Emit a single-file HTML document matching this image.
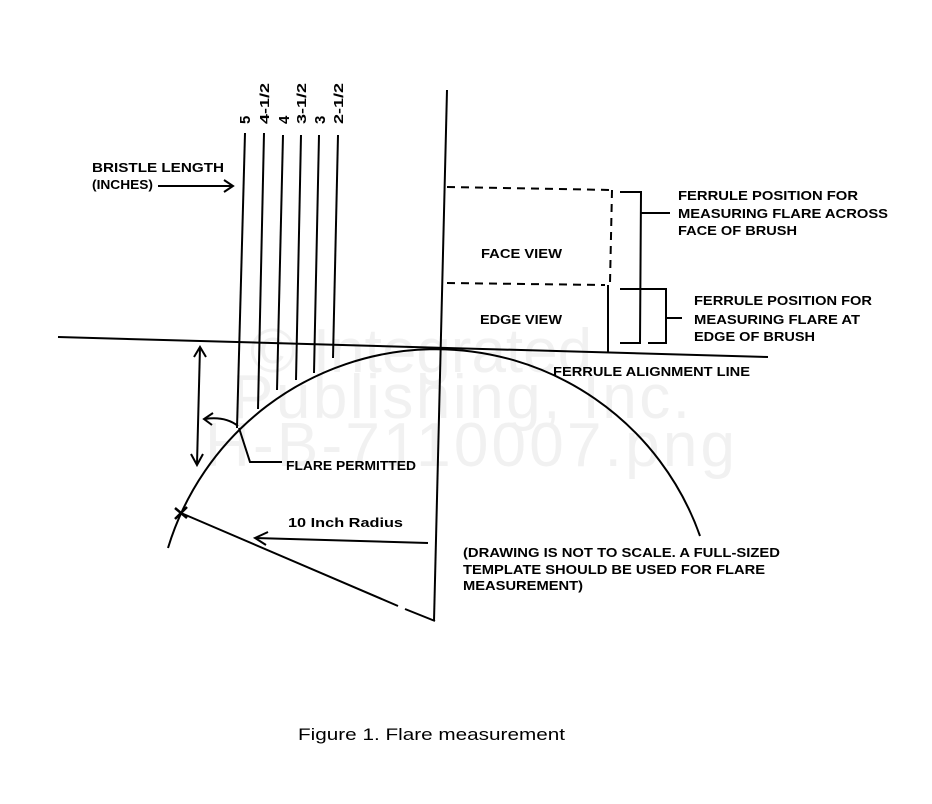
<!DOCTYPE html>
<html><head><style>html,body{margin:0;padding:0;background:#fff}svg{display:block}</style></head>
<body>
<svg width="932" height="804" viewBox="0 0 932 804" xmlns="http://www.w3.org/2000/svg" font-family="Liberation Sans, Arial, sans-serif">
<g fill="#f1f1f1" font-size="62">
<text x="250" y="372">© Integrated</text>
<text x="232" y="418" textLength="458">Publishing, Inc.</text>
<text x="205" y="466" textLength="530">H-B-7110007.png</text>
</g>
<g stroke="#000" fill="none" stroke-width="2">
<line x1="58" y1="337" x2="768" y2="357"/>
<line x1="447" y1="90" x2="434" y2="621"/>
<path d="M168,548 A280,280 0 0 1 700,536"/>
<line x1="245" y1="133" x2="237" y2="428"/>
<line x1="264" y1="133" x2="258" y2="409"/>
<line x1="283" y1="135" x2="277" y2="390"/>
<line x1="301" y1="135" x2="296" y2="380"/>
<line x1="319" y1="135" x2="314" y2="373"/>
<line x1="338" y1="135" x2="333" y2="358"/>
<line x1="158" y1="186" x2="233" y2="186"/>
<polyline points="224,180 233,186 224,192"/>
<line x1="200" y1="347" x2="197" y2="464"/>
<polyline points="194,357 200,347 206,357"/>
<polyline points="191,454 197,465 203,454"/>
<path d="M238,426 Q225,416 205,419"/>
<polyline points="213,413 204,419 212,425"/>
<polyline points="239,428 250,462 282,462"/>
<line x1="181" y1="513" x2="398" y2="606"/>
<line x1="405" y1="609" x2="435" y2="621"/>
<line x1="428" y1="543" x2="255" y2="538"/>
<polyline points="268,532 255,538 266,545"/>
<path d="M175,508 L187,518 M187,507 L175,519" stroke-width="2.5"/>
<g stroke-dasharray="8,6">
<line x1="447" y1="187" x2="612" y2="190"/>
<line x1="447" y1="283" x2="605" y2="285"/>
<line x1="612" y1="190" x2="610" y2="283"/>
</g>
<line x1="608" y1="285" x2="608" y2="352"/>
<polyline points="620,192 641,192 640,343 620,343"/>
<line x1="641" y1="213" x2="670" y2="213"/>
<polyline points="620,289 666,289 666,343 648,343"/>
<line x1="666" y1="318" x2="682" y2="318"/>
</g>
<g font-weight="bold" font-size="13" fill="#000">
<g transform="translate(250,124) rotate(-90)"><text font-size="15">5</text></g>
<g transform="translate(269,124) rotate(-90)"><text textLength="41" lengthAdjust="spacingAndGlyphs">4-1/2</text></g>
<g transform="translate(289,124) rotate(-90)"><text font-size="15">4</text></g>
<g transform="translate(306,124) rotate(-90)"><text textLength="41" lengthAdjust="spacingAndGlyphs">3-1/2</text></g>
<g transform="translate(325,124) rotate(-90)"><text font-size="15">3</text></g>
<g transform="translate(343,124) rotate(-90)"><text textLength="41" lengthAdjust="spacingAndGlyphs">2-1/2</text></g>
<text x="92" y="172" textLength="132" lengthAdjust="spacingAndGlyphs">BRISTLE  LENGTH</text>
<text x="92" y="189" textLength="61" lengthAdjust="spacingAndGlyphs">(INCHES)</text>
<text x="481" y="258" textLength="81" lengthAdjust="spacingAndGlyphs">FACE VIEW</text>
<text x="480" y="324" textLength="82" lengthAdjust="spacingAndGlyphs">EDGE VIEW</text>
<text x="678" y="200" textLength="180" lengthAdjust="spacingAndGlyphs">FERRULE POSITION FOR</text>
<text x="678" y="218" textLength="210" lengthAdjust="spacingAndGlyphs">MEASURING FLARE ACROSS</text>
<text x="678" y="235" textLength="119" lengthAdjust="spacingAndGlyphs">FACE OF BRUSH</text>
<text x="694" y="305" textLength="178" lengthAdjust="spacingAndGlyphs">FERRULE POSITION FOR</text>
<text x="694" y="324" textLength="166" lengthAdjust="spacingAndGlyphs">MEASURING FLARE AT</text>
<text x="694" y="341" textLength="121" lengthAdjust="spacingAndGlyphs">EDGE OF BRUSH</text>
<text x="553" y="376" textLength="197" lengthAdjust="spacingAndGlyphs">FERRULE ALIGNMENT LINE</text>
<text x="286" y="470" textLength="130" lengthAdjust="spacingAndGlyphs">FLARE PERMITTED</text>
<text x="288" y="527" textLength="115" lengthAdjust="spacingAndGlyphs">10 Inch Radius</text>
<text x="463" y="557" textLength="317" lengthAdjust="spacingAndGlyphs">(DRAWING IS NOT TO SCALE. A FULL-SIZED</text>
<text x="463" y="574" textLength="302" lengthAdjust="spacingAndGlyphs">TEMPLATE SHOULD BE USED FOR FLARE</text>
<text x="463" y="590" textLength="120" lengthAdjust="spacingAndGlyphs">MEASUREMENT)</text>
</g>
<text x="298" y="740" font-size="17" fill="#000" textLength="267" lengthAdjust="spacingAndGlyphs">Figure 1.  Flare measurement</text>
</svg>
</body></html>
